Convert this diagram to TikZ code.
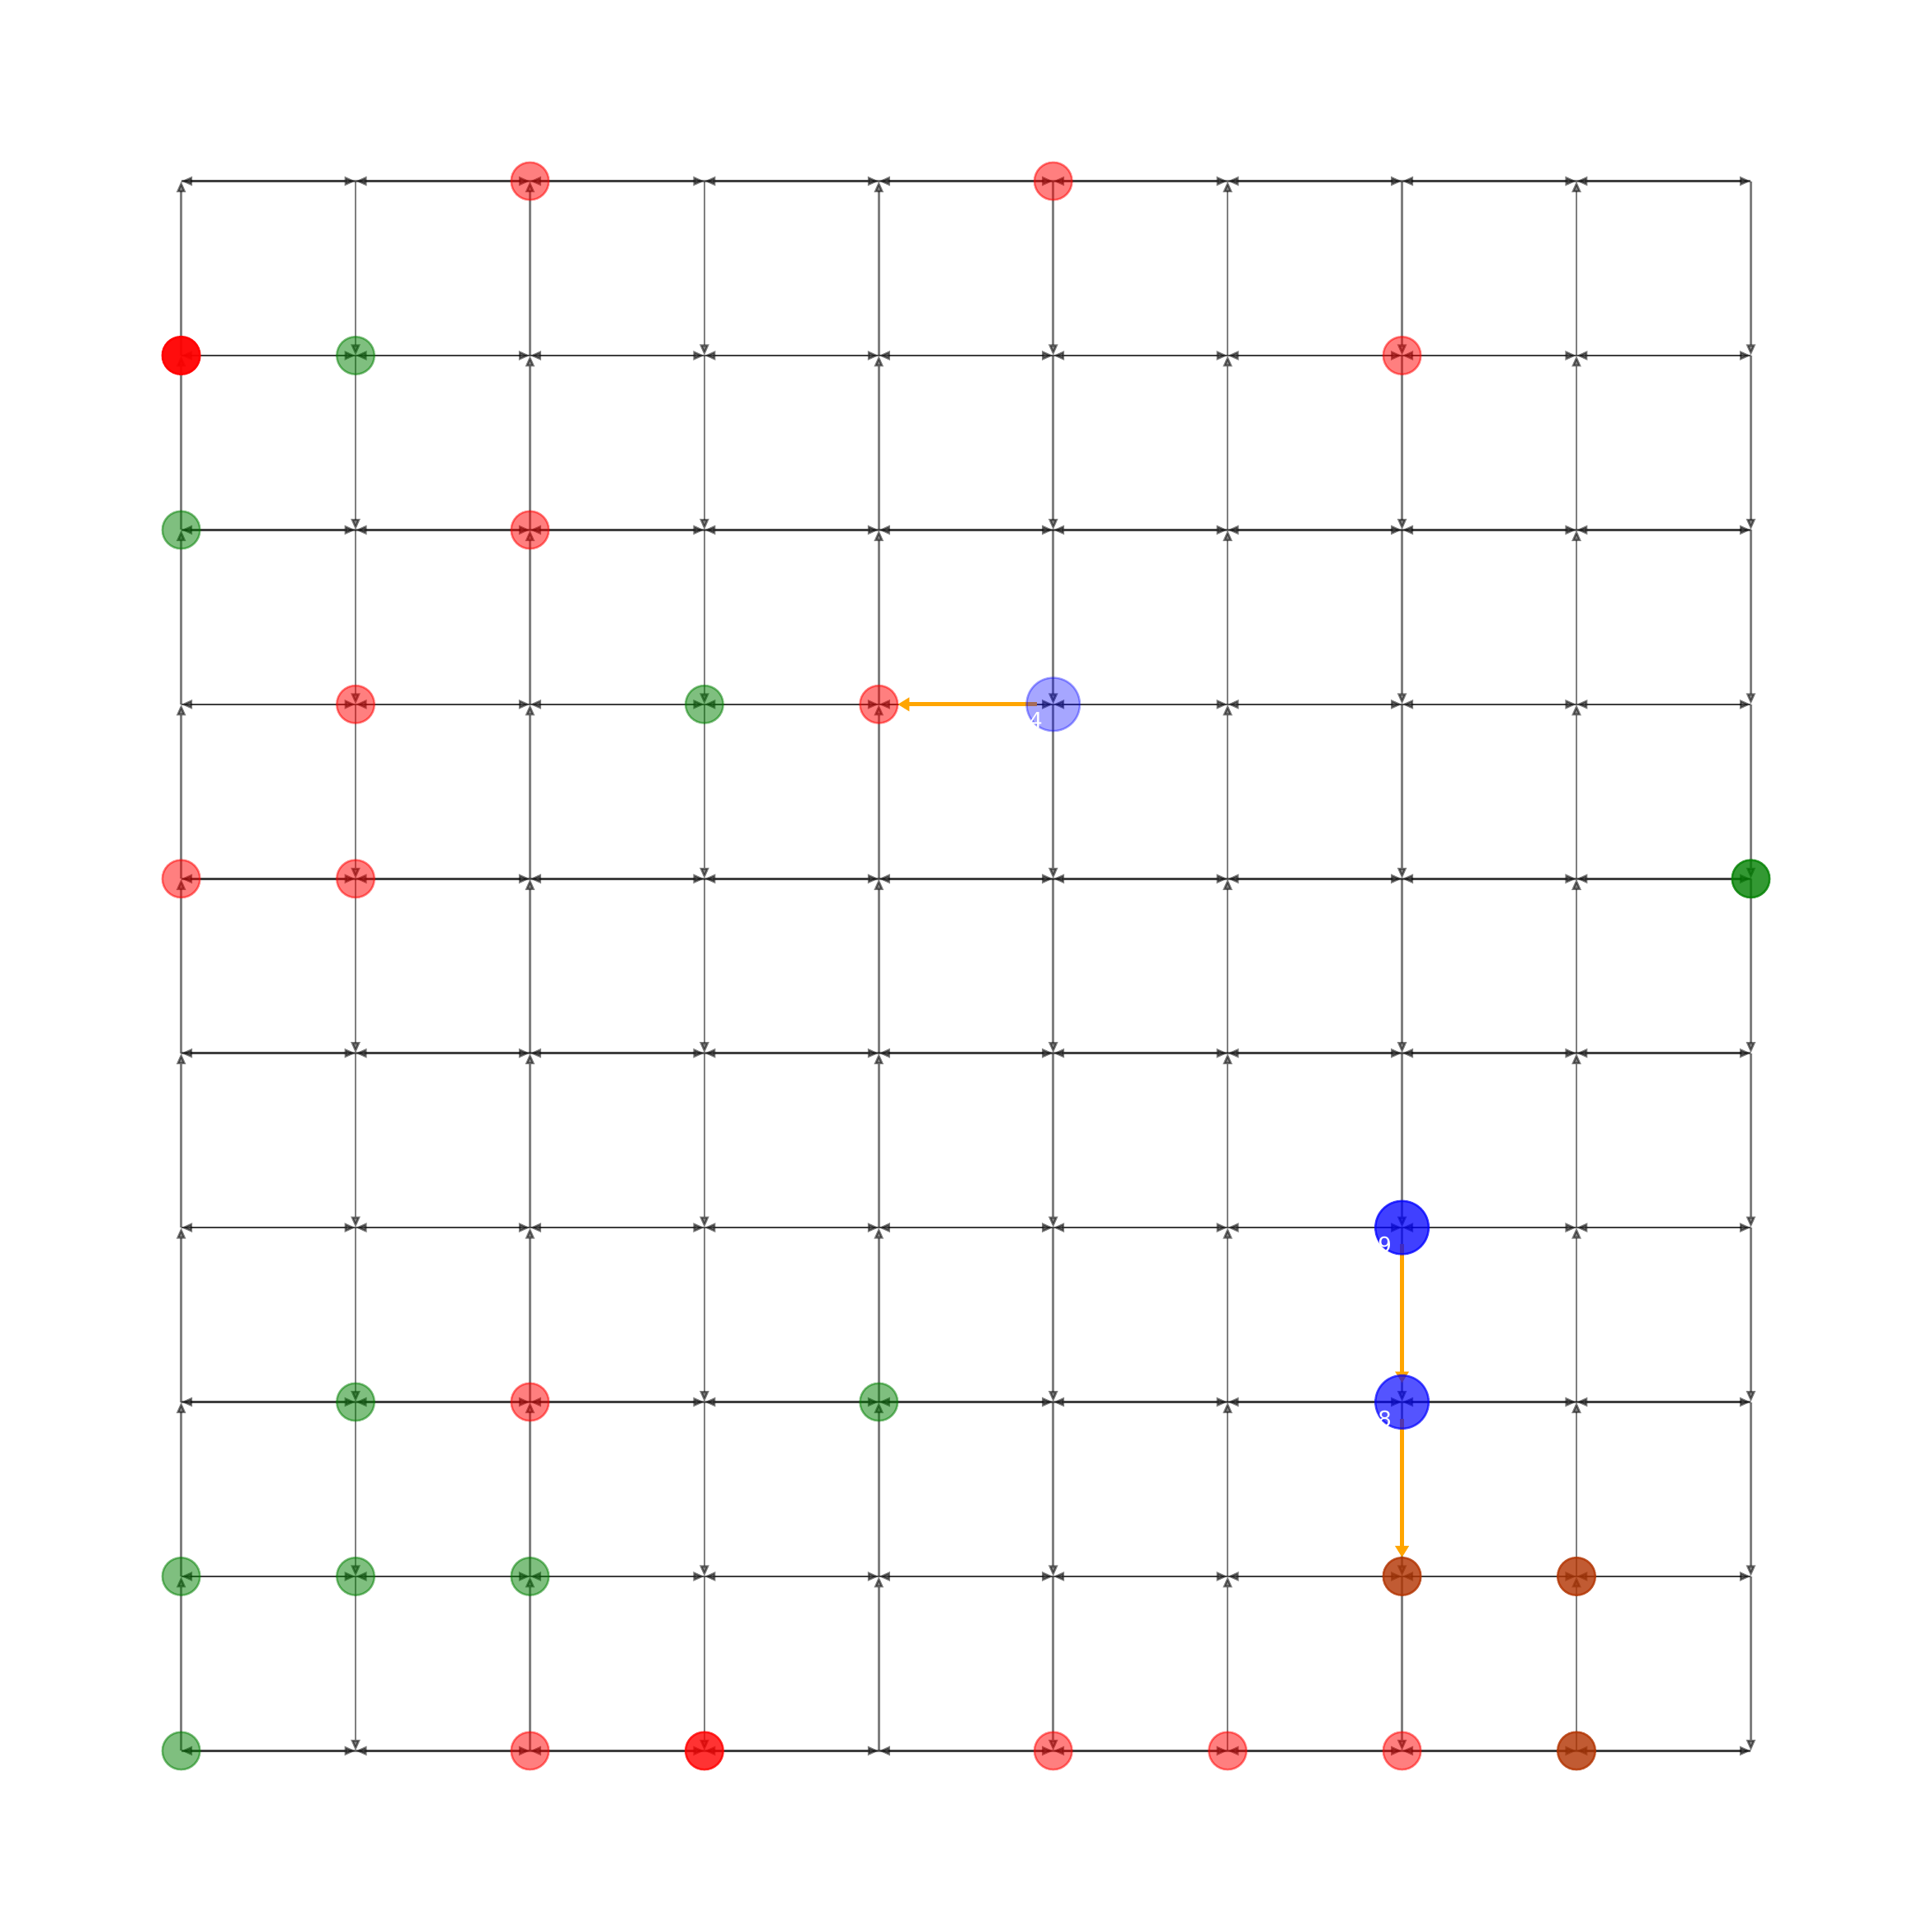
\documentclass[tikz,border=0pt]{standalone}
\usepackage{fontspec}
\setmainfont{DejaVu Sans}
\usetikzlibrary{arrows.meta}
\definecolor{mplgreen}{RGB}{0,128,0}
\definecolor{mplbrown}{RGB}{178,51,0}
\definecolor{mplorange}{RGB}{255,165,0}
\tikzset{
  gridedge/.style={draw=black, opacity=0.5, line width=0.025cm, -{Triangle[length=0.135cm,width=0.11cm]}},
  pathedge/.style={draw=mplorange, line width=0.05cm, -{Triangle[length=0.14cm,width=0.16cm]}, shorten <=0.2cm, shorten >=0.23cm},
  dot/.style={circle, inner sep=0pt, minimum size=0.455cm, line width=0.025cm},
  bigdot/.style={dot, minimum size=0.645cm},
  paint/.style 2 args={fill=#1, draw=#1, fill opacity=#2, draw opacity=#2},
  lbl/.style={text=white, font=\fontsize{7.4}{9}\selectfont, inner sep=0pt}
}
\begin{document}
\begin{tikzpicture}
\useasboundingbox (0,0) rectangle (23.42,23.42);
\fill[white] (0,0) rectangle (23.42,23.42);
% grid points
\foreach \r in {0,...,9}{
  \foreach \c in {0,...,9}{
    \coordinate (g\r\c) at ({2.196+\c*2.1142},{21.224-\r*2.1142});
  }
}
% horizontal edges (both directions)
\foreach \r in {0,...,9}{
  \foreach \c [evaluate=\c as \d using int(\c+1)] in {0,...,8}{
    \draw[gridedge] (g\r\c) -- (g\r\d);
    \draw[gridedge] (g\r\d) -- (g\r\c);
  }
}
% vertical edges (alternating direction by column)
\foreach \c in {0,...,9}{
  \foreach \r [evaluate=\r as \s using int(\r+1)] in {0,...,8}{
    \ifodd\c\relax
      \draw[gridedge] (g\r\c) -- (g\s\c);
    \else
      \draw[gridedge] (g\s\c) -- (g\r\c);
    \fi
  }
}
% path edges
\draw[pathedge] (g35) -- (g34);
\draw[pathedge] (g67) -- (g77);
\draw[pathedge] (g77) -- (g87);
% nodes
\node[dot, paint={red}{0.5}] (n02) at (g02) {};
\node[dot, paint={red}{0.5}] (n05) at (g05) {};
\node[dot, paint={red}{0.95}] (n10) at (g10) {};
\node[dot, paint={mplgreen}{0.5}] (n11) at (g11) {};
\node[dot, paint={red}{0.5}] (n17) at (g17) {};
\node[dot, paint={mplgreen}{0.5}] (n20) at (g20) {};
\node[dot, paint={red}{0.5}] (n22) at (g22) {};
\node[dot, paint={red}{0.5}] (n31) at (g31) {};
\node[dot, paint={mplgreen}{0.5}] (n33) at (g33) {};
\node[dot, paint={red}{0.5}] (n34) at (g34) {};
\node[bigdot, paint={blue}{0.35}] (n35) at (g35) {};
\node[dot, paint={red}{0.5}] (n40) at (g40) {};
\node[dot, paint={red}{0.5}] (n41) at (g41) {};
\node[dot, paint={mplgreen}{0.8}] (n49) at (g49) {};
\node[bigdot, paint={blue}{0.75}] (n67) at (g67) {};
\node[dot, paint={mplgreen}{0.5}] (n71) at (g71) {};
\node[dot, paint={red}{0.5}] (n72) at (g72) {};
\node[dot, paint={mplgreen}{0.5}] (n74) at (g74) {};
\node[bigdot, paint={blue}{0.67}] (n77) at (g77) {};
\node[dot, paint={mplgreen}{0.5}] (n80) at (g80) {};
\node[dot, paint={mplgreen}{0.5}] (n81) at (g81) {};
\node[dot, paint={mplgreen}{0.5}] (n82) at (g82) {};
\node[dot, paint={mplbrown}{0.8}] (n87) at (g87) {};
\node[dot, paint={mplbrown}{0.8}] (n88) at (g88) {};
\node[dot, paint={mplgreen}{0.5}] (n90) at (g90) {};
\node[dot, paint={red}{0.5}] (n92) at (g92) {};
\node[dot, paint={red}{0.8}] (n93) at (g93) {};
\node[dot, paint={red}{0.5}] (n95) at (g95) {};
\node[dot, paint={red}{0.5}] (n96) at (g96) {};
\node[dot, paint={red}{0.5}] (n97) at (g97) {};
\node[dot, paint={mplbrown}{0.8}] (n98) at (g98) {};
% labels
\node[lbl] (l35) at ([shift={(-0.21,-0.19)}]g35) {4};
\node[lbl] (l67) at ([shift={(-0.21,-0.21)}]g67) {9};
\node[lbl] (l77) at ([shift={(-0.21,-0.21)}]g77) {8};
\end{tikzpicture}
\end{document}
